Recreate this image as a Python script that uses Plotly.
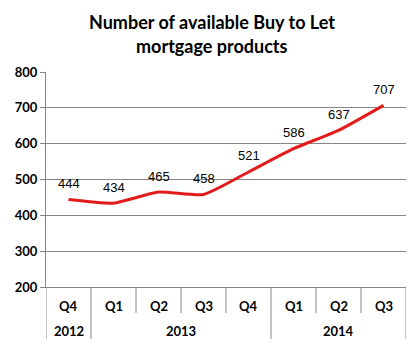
import plotly.graph_objects as go

title_lines = ["Number of available Buy to Let", "mortgage products"]
quarters = ["Q4", "Q1", "Q2", "Q3", "Q4", "Q1", "Q2", "Q3"]
years = ["2012", "2013", "2013", "2013", "2013", "2014", "2014", "2014"]
values = [444, 434, 465, 458, 521, 586, 637, 707]
y_ticks = [200, 300, 400, 500, 600, 700, 800]

x = list(range(len(values)))
GRAY = "#868686"
RED = "#E41B1B"
FONT = "Lato"

fig = go.Figure()
fig.add_trace(go.Scatter(
    x=x, y=values, mode="lines",
    line=dict(color=RED, width=3, shape="spline", smoothing=0.5),
    hoverinfo="skip", showlegend=False,
))

annotations = []
for k, line in enumerate(title_lines):
    annotations.append(dict(x=(212 - 46) / 360, y=1, xref="paper", yref="paper",
                            yshift=50 - 24 * k,
                            text=line, showarrow=False, xanchor="center", yanchor="middle",
                            font=dict(family=FONT, size=18, color="#000", weight="bold")))
for xi, v in zip(x, values):
    annotations.append(dict(x=xi, y=v, xref="x", yref="y", text=str(v),
                            showarrow=False, yshift=16,
                            font=dict(family="Liberation Sans", size=13, color="#000")))
for xi, q in zip(x, quarters):
    annotations.append(dict(x=xi, y=0, xref="x", yref="paper", text=q,
                            showarrow=False, yshift=-19, yanchor="middle",
                            font=dict(family=FONT, size=13, color="#000", weight="bold")))

# group years
groups = []
start = 0
for i in range(1, len(years) + 1):
    if i == len(years) or years[i] != years[start]:
        groups.append((years[start], start, i - 1))
        start = i
shapes = []
for i in range(len(x) + 1):
    shapes.append(dict(type="line", xref="x", yref="paper", ysizemode="pixel",
                       yanchor=0, x0=i - 0.5, x1=i - 0.5, y0=0, y1=-26,
                       line=dict(color=GRAY, width=1)))
bounds = sorted(set([g[1] - 0.5 for g in groups] + [g[2] + 0.5 for g in groups]))
for b in bounds:
    shapes.append(dict(type="line", xref="x", yref="paper", ysizemode="pixel",
                       yanchor=0, x0=b, x1=b, y0=-26, y1=-52,
                       line=dict(color=GRAY, width=1)))
for name, a, b in groups:
    annotations.append(dict(x=(a + b) / 2, y=0, xref="x", yref="paper", text=name,
                            showarrow=False, yshift=-44, yanchor="middle",
                            font=dict(family=FONT, size=13, color="#000", weight="bold")))

fig.update_layout(
    width=417, height=353,
    margin=dict(l=46, r=11, t=72, b=66),
    paper_bgcolor="white", plot_bgcolor="white",
    xaxis=dict(range=[-0.5, len(x) - 0.5], showticklabels=False, showgrid=False,
               zeroline=False, showline=True, linecolor=GRAY, linewidth=1, ticks=""),
    yaxis=dict(range=[200, 800], tickvals=y_ticks, showgrid=True, gridcolor=GRAY,
               gridwidth=1, zeroline=False, showline=True, linecolor=GRAY, linewidth=1,
               ticks="outside", ticklen=5, tickcolor=GRAY,
               tickfont=dict(family=FONT, size=13, color="#000", weight="bold")),
    annotations=annotations, shapes=shapes,
)

fig.write_html("out.html")
